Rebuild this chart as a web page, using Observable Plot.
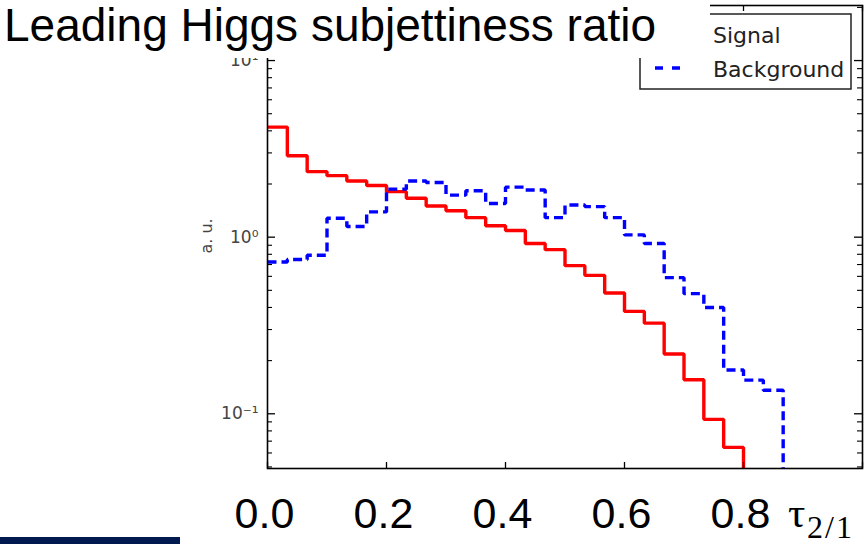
<!DOCTYPE html>
<html>
<head>
<meta charset="utf-8">
<script src="https://cdn.jsdelivr.net/npm/d3@7"></script>
<script src="https://cdn.jsdelivr.net/npm/@observablehq/plot@0.6"></script>
<style>
  html, body { margin: 0; padding: 0; background: white; }
  #wrap { position: relative; width: 868px; height: 544px; overflow: hidden; background: white; }
  #chart { position: absolute; left: 0; top: 0; }
  #overlay { position: absolute; left: 0; top: 0; pointer-events: none; }
</style>
</head>
<body>
<div id="wrap">
  <div id="chart"></div>
  <svg id="overlay" width="868" height="544"></svg>
</div>
<script>
// ---- data ----
const nBins = 30;                 // histogram bins over [0, 1]
const binWidth = 1 / nBins;
const signal = [4.2, 2.89, 2.35, 2.23, 2.08, 1.96, 1.81, 1.66, 1.50, 1.41, 1.29, 1.16,
                1.09, 0.92, 0.85, 0.69, 0.608, 0.483, 0.38, 0.326, 0.218, 0.156, 0.093, 0.0645];
const background = [0.724, 0.747, 0.79, 1.28, 1.15, 1.39, 1.87, 2.08, 2.04, 1.73, 1.83, 1.55,
                    1.92, 1.85, 1.29, 1.52, 1.49, 1.29, 1.03, 0.92, 0.59, 0.479, 0.40, 0.177, 0.155, 0.136];
const baseline = 0.01;            // histogram floor (below the visible range)
const xTicks = [0, 0.2, 0.4, 0.6, 0.8, 1.0];
const xTickLabels = [0, 0.2, 0.4, 0.6, 0.8];
const yMajor = [0.1, 1, 10];
const yMinor = [0.05, 0.06, 0.07, 0.08, 0.09, 0.2, 0.3, 0.4, 0.5, 0.6, 0.7, 0.8, 0.9,
                2, 3, 4, 5, 6, 7, 8, 9, 20];
const yDomain = [0.049, 20.5];
const seriesNames = ["Signal", "Background"];
const titleText = "Leading Higgs subjettiness ratio";

// ---- layout ----
const W = 868, H = 544;
const mL = 267, mR = 6, mT = 5, mB = 76;
const innerW = W - mL - mR, innerH = H - mT - mB;

function steps(vals) {
  const pts = [];
  vals.forEach((v, i) => {
    pts.push({x: i * binWidth, y: v});
    pts.push({x: (i + 1) * binWidth, y: v});
  });
  pts.push({x: vals.length * binWidth, y: baseline});
  return pts;
}
const sup = {"0": "\u2070", "1": "\u00b9", "-": "\u207b"};
const supFormat = d => "10" + String(Math.round(Math.log10(d))).split("").map(c => sup[c]).join("");

const chart = Plot.plot({
  width: W, height: H,
  marginLeft: mL, marginRight: mR, marginTop: mT, marginBottom: mB,
  x: {domain: [0, 1]},
  y: {type: "log", domain: yDomain},
  style: {background: "white", color: "black"},
  marks: [
    Plot.line(steps(signal), {x: "x", y: "y", stroke: "#ff0000", strokeWidth: 3.4,
      strokeLinejoin: "miter", clip: true}),
    Plot.line(steps(background), {x: "x", y: "y", stroke: "#0000ff", strokeWidth: 3.4,
      strokeDasharray: "9,5", strokeLinecap: "butt", strokeLinejoin: "miter", clip: true}),
    Plot.frame({stroke: "black", strokeWidth: 1.6}),
    Plot.tickX(xTicks, {x: d => d, insetTop: innerH - 6, stroke: "black", strokeWidth: 1.3}),
    Plot.tickX(xTicks, {x: d => d, insetBottom: innerH - 6, stroke: "black", strokeWidth: 1.3}),
    Plot.tickY(yMajor, {y: d => d, insetRight: innerW - 8, stroke: "black", strokeWidth: 1.3}),
    Plot.tickY(yMinor, {y: d => d, insetRight: innerW - 5, stroke: "black", strokeWidth: 1.1}),
    Plot.tickY(yMajor, {y: d => d, insetLeft: innerW - 8, stroke: "black", strokeWidth: 1.3}),
    Plot.tickY(yMinor, {y: d => d, insetLeft: innerW - 5, stroke: "black", strokeWidth: 1.1}),
    Plot.axisX(xTickLabels, {tickSize: 0, tickPadding: 29, fontSize: 43, fontFamily: "Liberation Sans",
      tickFormat: d3.format(".1f"), label: null, fill: "black", dx: -3}),
    Plot.axisY(yMajor, {tickSize: 0, tickPadding: 9, fontSize: 17, fontFamily: "DejaVu Sans",
      tickFormat: supFormat, label: null, fill: "#444"})
  ]
});
document.getElementById("chart").appendChild(chart);

// ---- overlay: legend, slide title box, axis symbol, footer bar ----
const ov = d3.select("#overlay");
// legend
const lg = ov.append("g").attr("transform", "translate(640,14)");
lg.append("rect").attr("x", 0).attr("y", 0).attr("width", 211).attr("height", 75)
  .attr("fill", "white").attr("stroke", "#222").attr("stroke-width", 1.5);
lg.append("line").attr("x1", 15).attr("x2", 40).attr("y1", 21).attr("y2", 21)
  .attr("stroke", "#ff0000").attr("stroke-width", 3.3);
lg.append("line").attr("x1", 15).attr("x2", 40).attr("y1", 54).attr("y2", 54)
  .attr("stroke", "#0000ff").attr("stroke-width", 3.3).attr("stroke-dasharray", "8,9");
lg.selectAll("text.lab").data(seriesNames).join("text").attr("class", "lab")
  .attr("x", 73).attr("y", (d, i) => 29 + i * 34)
  .attr("font-family", "DejaVu Sans").attr("font-size", 22).attr("fill", "#222")
  .text(d => d);
// slide title box (white, covers top-left of the figure)
ov.append("rect").attr("x", 0).attr("y", 0).attr("width", 710).attr("height", 58).attr("fill", "white");
ov.append("text").attr("x", 4).attr("y", 41)
  .attr("font-family", "Liberation Sans, Arial, sans-serif").attr("font-size", 46).attr("fill", "black")
  .text(titleText);
// y axis label
ov.append("text").attr("transform", "translate(212,236) rotate(-90)")
  .attr("text-anchor", "middle").attr("font-family", "DejaVu Sans").attr("font-size", 16).attr("fill", "#444")
  .text("a. u.");
// x variable symbol tau_{2/1}
const tx = ov.append("text").attr("font-family", "Liberation Serif, Times New Roman, serif").attr("fill", "black");
tx.append("tspan").attr("x", 788).attr("y", 527).attr("font-size", 43).text("\u03c4");
tx.append("tspan").attr("x", 807).attr("y", 538).attr("font-size", 32).attr("letter-spacing", 2).text("2/1");
// footer bar
ov.append("rect").attr("x", 0).attr("y", 537).attr("width", 180).attr("height", 7).attr("fill", "#001a50");
</script>
</body>
</html>
